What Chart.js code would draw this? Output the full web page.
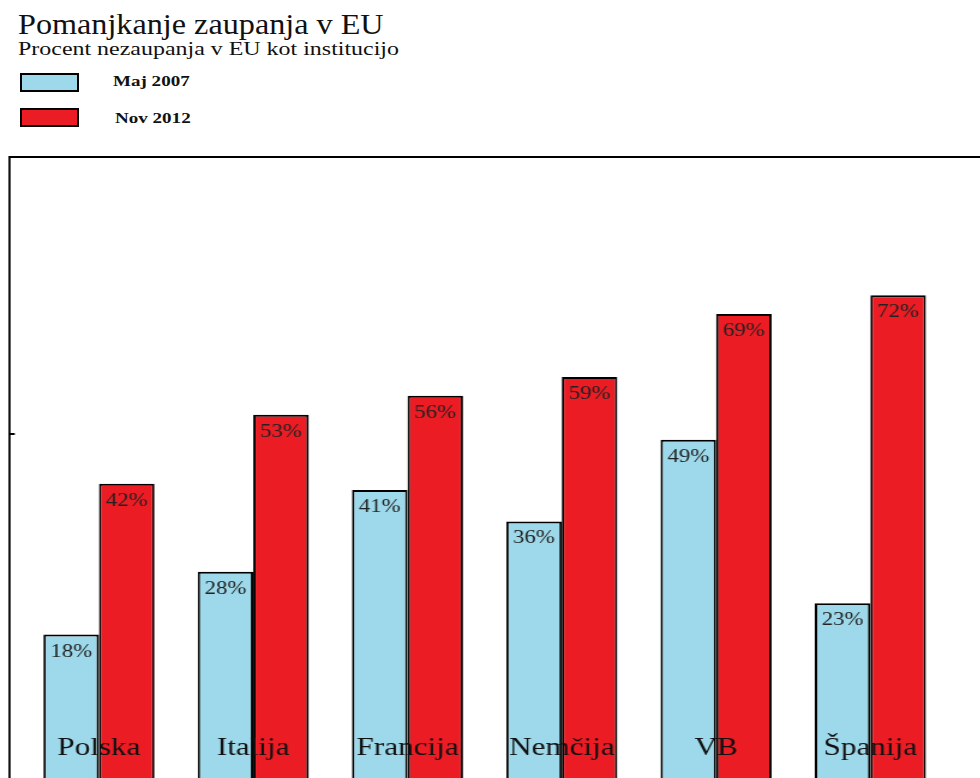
<!DOCTYPE html>
<html lang="sl">
<head>
<meta charset="UTF-8">
<title>Pomanjkanje zaupanja v EU</title>
<script src="https://cdn.jsdelivr.net/npm/chart.js"></script>
<style>
  html, body { margin: 0; padding: 0; background: #fff; overflow: hidden; width: 980px; height: 778px; }
  .txt { position: absolute; white-space: nowrap; line-height: 1; color: #111; font-family: 'Liberation Serif', 'DejaVu Serif', serif; transform-origin: 0 0; }
  #title { left: 18px; top: 10px; font-size: 29px; transform: scaleX(1.11); }
  #subtitle { left: 18px; top: 39px; font-size: 19px; transform: scaleX(1.26); }
  .lgbox { position: absolute; left: 20px; width: 55px; height: 15px; border: 2px solid #000; }
  .lgtext { font-size: 15px; font-weight: bold; transform: scaleX(1.27); }
  #wrap { position: absolute; left: 0; top: 0; transform: scaleX(1.2); transform-origin: 0 0; }
</style>
</head>
<body>
<div id="title" class="txt">Pomanjkanje zaupanja v EU</div>
<div id="subtitle" class="txt">Procent nezaupanja v EU kot institucijo</div>
<div id="legend"></div>
<div id="wrap"><canvas id="myChart" width="850" height="820"></canvas></div>

<script>
// podatki
const countries = ['Polska', 'Italija', 'Francija', 'Nemčija', 'VB', 'Španija'];
const maj2007 = [18, 28, 41, 36, 49, 23];
const nov2012 = [42, 53, 56, 59, 69, 72];
const seriesNames = ['Maj 2007', 'Nov 2012'];
const yTicks = [50];

const blue = '#9dd9ea';
const red = '#ec1c24';

// percent labels inside the top of each bar
const barLabels = {
    id: 'barLabels',
    afterDatasetsDraw(chart) {
        const ctx = chart.ctx;
        ctx.save();
        ctx.font = '19px "Liberation Serif", serif';
        ctx.fillStyle = '#222';
        ctx.textAlign = 'center';
        ctx.textBaseline = 'middle';
        chart.data.datasets.forEach((ds, di) => {
            chart.getDatasetMeta(di).data.forEach((bar, i) => {
                ctx.fillText(ds.data[i].y + '%', bar.x, bar.y + 17);
            });
        });
        ctx.restore();
    }
};

const toPoints = arr => arr.map((v, i) => ({ x: i, y: v }));

const ctx = document.getElementById('myChart').getContext('2d');
const myChart = new Chart(ctx, {
    type: 'bar',
    data: {
        datasets: [{
            label: seriesNames[0],
            data: toPoints(maj2007),
            backgroundColor: blue,
            borderColor: '#000',
            borderWidth: { top: 2, left: 2, right: 2, bottom: 0 },
            base: -8
        }, {
            label: seriesNames[1],
            data: toPoints(nov2012),
            backgroundColor: red,
            borderColor: '#000',
            borderWidth: { top: 2, left: 2, right: 2, bottom: 0 },
            base: -8
        }]
    },
    options: {
        responsive: false,
        animation: false,
        categoryPercentage: 0.72,
        barPercentage: 1.0,
        layout: { padding: { top: 157, left: 0, right: 0, bottom: 0 } },
        plugins: { legend: { display: false }, tooltip: { enabled: false } },
        scales: {
            x: {
                type: 'linear',
                position: 'bottom',
                offset: false,
                min: -0.577,
                max: 5.97,
                grid: { display: false, drawTicks: false },
                border: { display: false },
                afterBuildTicks: s => { s.ticks = countries.map((c, i) => ({ value: i })); },
                afterFit: s => { s.height = 22; },
                ticks: {
                    z: 1,
                    mirror: true,
                    padding: 34,
                    maxRotation: 0,
                    autoSkip: false,
                    color: '#111',
                    font: { family: 'Liberation Serif', size: 26 },
                    callback: v => countries[v]
                }
            },
            xTop: {
                type: 'linear',
                position: 'top',
                offset: false,
                min: -0.577,
                max: 5.97,
                grid: { display: false, drawTicks: false },
                ticks: { display: false },
                border: { display: true, color: '#000', width: 2 },
                afterFit: s => { s.height = 0; }
            },
            y: {
                min: -8,
                max: 94,
                grid: { display: true, drawOnChartArea: false, drawTicks: true, tickLength: -4, color: '#000', lineWidth: 2 },
                border: { display: true, color: '#000', width: 1.8 },
                ticks: { display: false },
                afterBuildTicks: s => { s.ticks = yTicks.map(v => ({ value: v })); },
                afterFit: s => { s.width = 8.3; }
            }
        }
    },
    plugins: [barLabels]
});

// legend built from the datasets
const legend = document.getElementById('legend');
const lgTops = [73, 108];
const lgTextTops = [74, 111];
const lgTextLeft = [113, 115];
myChart.data.datasets.forEach((ds, i) => {
    const box = document.createElement('div');
    box.className = 'lgbox';
    box.style.top = lgTops[i] + 'px';
    box.style.background = ds.backgroundColor;
    legend.appendChild(box);
    const t = document.createElement('div');
    t.className = 'txt lgtext';
    t.style.left = lgTextLeft[i] + 'px';
    t.style.top = lgTextTops[i] + 'px';
    t.textContent = ds.label;
    legend.appendChild(t);
});
</script>
</body>
</html>
